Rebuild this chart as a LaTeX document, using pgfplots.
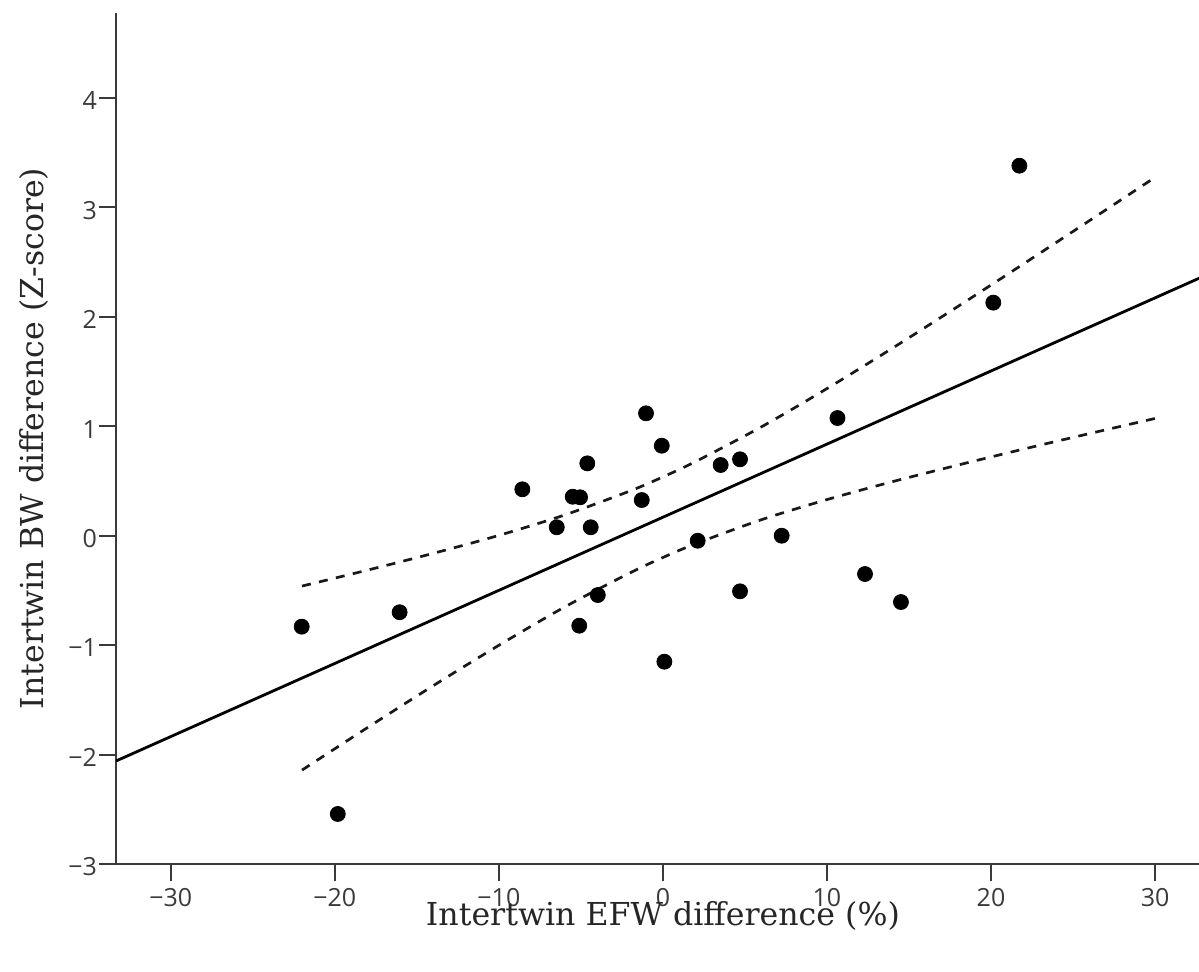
\documentclass[border=0pt]{standalone}
\usepackage{fontspec}
\setmainfont{DejaVu Serif}
\newfontfamily\ticksans{Open Sans}
\usepackage{pgfplots}
\pgfplotsset{compat=1.18}
\definecolor{axgray}{HTML}{3A3A3A}
\begin{document}
\begin{tikzpicture}
\begin{axis}[
  at={(0,0)}, anchor=south west,
  scale only axis, width=541.5pt, height=425.5pt,
  xmin=-33.34, xmax=32.68, ymin=-3, ymax=4.774,
  axis x line*=bottom, axis y line*=left,
  axis line style={axgray, line width=1pt},
  tick align=outside, major tick length=8.5pt,
  tick style={axgray, line width=1pt},
  xtick={-30,-20,-10,0,10,20,30},
  xticklabels={−30,−20,−10,0,10,20,30},
  ytick={-3,-2,-1,0,1,2,3,4},
  yticklabels={−3,−2,−1,0,1,2,3,4},
  ticklabel style={font=\ticksans\fontsize{12.5}{14}\selectfont, text=axgray},
  yticklabel style={inner sep=0.8pt, yshift=-1.5pt},
  xticklabel style={inner sep=3.25pt},
  xlabel={Intertwin EFW difference (\%)},
  xlabel style={at={(axis description cs:0.505,-0.0717)}, anchor=base, font=\fontsize{15.8}{18}\selectfont, text=black!85},
  ylabel={Intertwin BW difference (Z-score)},
  ylabel style={at={(axis description cs:-0.0674,0.5)}, anchor=base, font=\fontsize{15.8}{18}\selectfont, text=black!85},
]
% regression line
\addplot[black, line width=1.4pt] coordinates {(-33.34,-2.059) (32.7,2.352)};
% upper confidence band
\addplot[black!90, line width=1.35pt, dash pattern=on 4.5pt off 4.2pt, smooth] coordinates {
(-22,-0.461) (-18,-0.315) (-14,-0.162) (-10,0.002) (-6,0.188) (-2,0.408) (0,0.536) (2,0.677) (6,0.993) (10,1.343) (14,1.713) (18,2.095) (22,2.484) (26,2.877) (30,3.273)};
% lower confidence band
\addplot[black!90, line width=1.35pt, dash pattern=on 4.5pt off 4.2pt, smooth] coordinates {
(-22,-2.142) (-18,-1.753) (-14,-1.371) (-10,-1.002) (-6,-0.653) (-2,-0.340) (0,-0.200) (2,-0.074) (6,0.145) (10,0.329) (14,0.493) (18,0.645) (22,0.791) (26,0.932) (30,1.070)};
% data points
\addplot[only marks, mark=*, mark size=3.75pt, mark options={fill=black, draw=none}] coordinates {
(-22.02,-0.832) (-19.82,-2.543) (-16.05,-0.700) (-8.57,0.423) (-6.47,0.076)
(-5.50,0.355) (-5.05,0.350) (-4.61,0.660) (-4.40,0.076) (-3.97,-0.543)
(-5.10,-0.823) (-1.03,1.117) (-1.29,0.325) (-0.07,0.821) (0.09,-1.152)
(2.12,-0.047) (3.52,0.645) (4.70,0.697) (4.70,-0.509) (7.24,-0.001)
(10.64,1.074) (12.32,-0.351) (14.51,-0.607) (20.14,2.128) (21.73,3.379)};
\end{axis}
\pgfresetboundingbox
\path[use as bounding box] (-58pt,-53.5pt) rectangle (541.5pt,432pt);
\end{tikzpicture}
\end{document}
